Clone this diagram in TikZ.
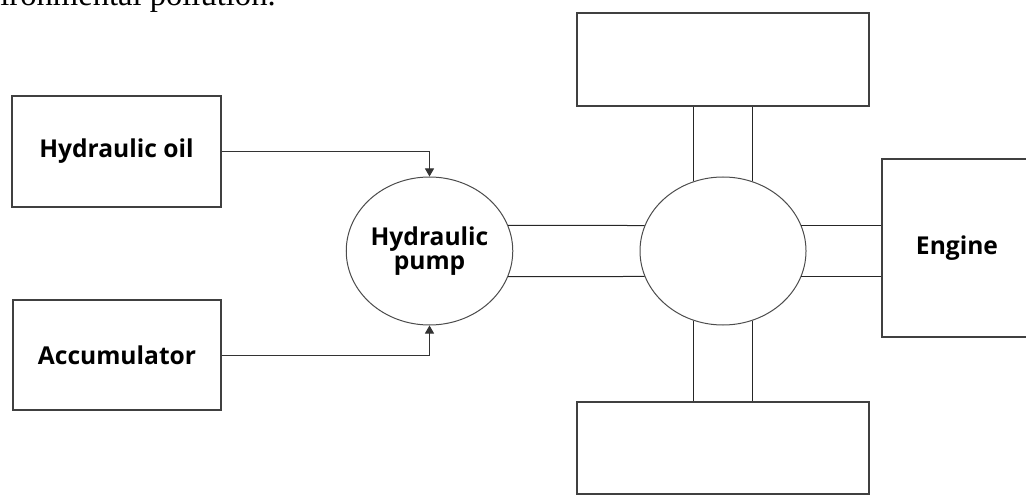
\documentclass[tikz,border=0pt]{standalone}
\usepackage{fontspec}
\setmainfont{Liberation Serif}
\newfontfamily\popisfont{Open Sans}
\usetikzlibrary{positioning,arrows.meta,shapes.geometric}
\tikzset{
  blok/.style={rectangle,draw=black!75,line width=0.6pt,fill=white,inner sep=0pt,align=center,font=\popisfont\bfseries\fontsize{12.3}{12}\selectfont},
  kolo/.style={ellipse,draw=black!70,line width=0.5pt,fill=white,minimum width=83pt,minimum height=74pt,inner sep=0pt,align=center,font=\popisfont\bfseries\fontsize{12.3}{12}\selectfont},
  spoj/.style={line width=0.5pt,draw=black!85},
  tok/.style={-{Triangle[width=4.5pt,length=4pt]},line width=0.5pt,draw=black!80},
}

\begin{document}
\begin{tikzpicture}[x=0.5pt,y=-0.5pt]
  \useasboundingbox (0,0) rectangle (1026,496);
  \clip (0,0) rectangle (1026,496);
  \node[anchor=base west,inner sep=0pt,font=\fontsize{16.3}{19}\selectfont] (veta) at (0,6) {ironmental pollution.};
  \node[blok,minimum width=104.5pt,minimum height=55.5pt] (olej) at (116.5,151.5) {Hydraulic oil};
  \node[blok,minimum width=104pt,minimum height=55pt] (akum) at (117,355) {Accumulator};
  \node[kolo] (cerpadlo) at (429.5,251) {Hydraulic\\pump};
  \node[kolo] (stred) at (723,251) {};
  \node[blok,minimum width=146pt,minimum height=46.5pt] (horni) at (723,59.5) {};
  \node[blok,minimum width=146pt,minimum height=46pt] (dolni) at (723,448) {};
  \node[blok,minimum width=75pt,minimum height=89pt] (motor) at (957,248) {Engine};
  \draw[tok] (olej.east) -| (cerpadlo.north);
  \draw[tok] (akum.east) -| (cerpadlo.south);
  \draw[spoj] (cerpadlo.18) -- (stred.162);
  \draw[spoj] (cerpadlo.-18) -- (stred.-162);
  \draw[spoj] (stred.67) -- (stred.67 |- horni.south);
  \draw[spoj] (stred.113) -- (stred.113 |- horni.south);
  \draw[spoj] (stred.-67) -- (stred.-67 |- dolni.north);
  \draw[spoj] (stred.-113) -- (stred.-113 |- dolni.north);
  \draw[spoj] (stred.18) -- (stred.18 -| motor.west);
  \draw[spoj] (stred.-18) -- (stred.-18 -| motor.west);
\end{tikzpicture}
\end{document}
